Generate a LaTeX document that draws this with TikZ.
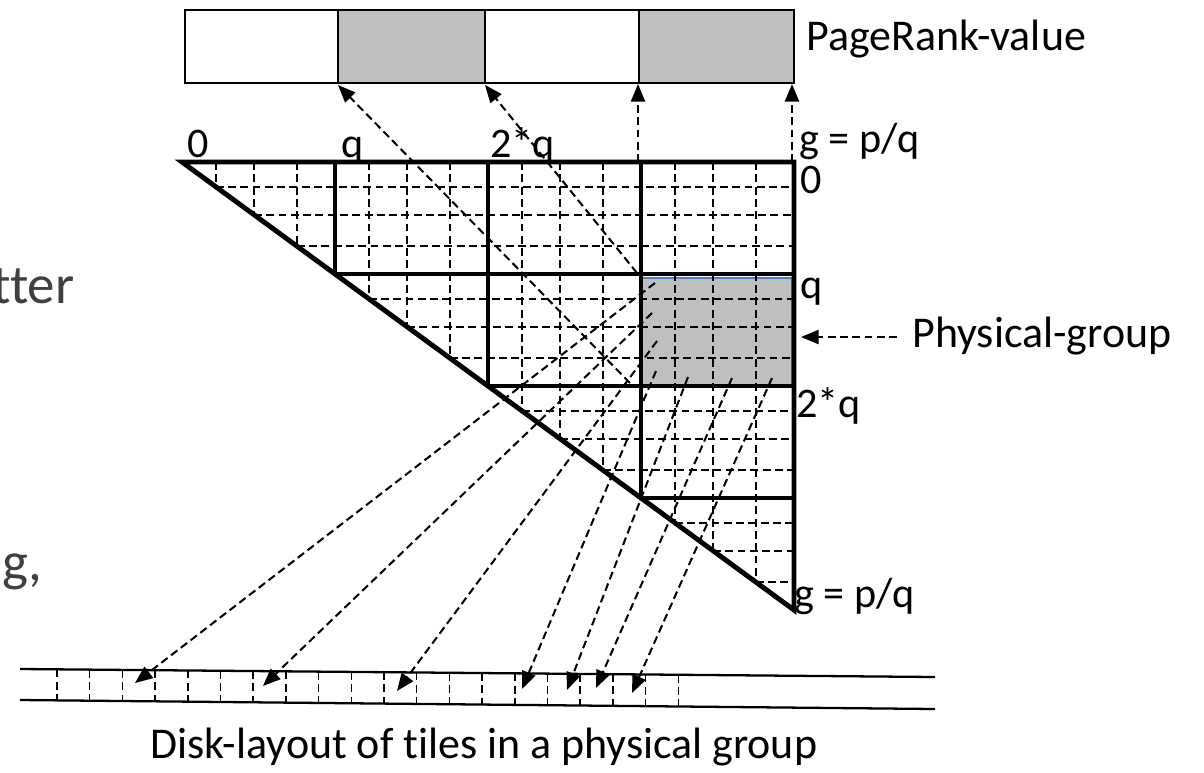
\documentclass[tikz,border=0pt]{standalone}
\usepackage{fontspec}
\setmainfont{Carlito}[Ligatures={NoCommon}]
\usetikzlibrary{arrows.meta}
\definecolor{cellgray}{HTML}{BFBFBF}
\definecolor{groupedge}{HTML}{4F81BD}
\definecolor{slidetext}{HTML}{404040}
\begin{document}
\begin{tikzpicture}[x=0.02cm,y=-0.02cm,
  heavy/.style={line width=2.8pt,line join=miter},
  fine/.style={line width=1.15pt,dash pattern=on 4.5pt off 2.5pt},
  link/.style={line width=1.15pt,dash pattern=on 4.5pt off 2.5pt,
    -{Triangle[length=10pt,width=8pt]}},
  cell/.style={draw=black,line width=1.1pt},
  lbl/.style={inner sep=0pt,anchor=base west,font=\fontsize{24}{28}\selectfont},
  big/.style={inner sep=0pt,anchor=base west,font=\fontsize{25}{30}\selectfont},
  slide/.style={inner sep=0pt,anchor=base west,text=slidetext,
    font=\fontsize{31.3}{38}\selectfont}]
\useasboundingbox (0,0) rectangle (1204,772);

% text of the slide behind the figure
\node[slide] (frag1) at (-8,303) {tter};
\node[slide] (frag2) at (2,580) {g,};

% PageRank vector
\draw[cell] (185,10) rectangle (338,83);
\draw[cell,fill=cellgray] (338,10) rectangle (485,83);
\draw[cell] (485,10) rectangle (639,83);
\draw[cell,fill=cellgray] (639,10) rectangle (794,83);
\node[big] (prv) at (806,50) {PageRank-value};

% highlighted physical group
\draw[fill=cellgray,draw=groupedge,line width=0.6pt] (641,278) rectangle (792,385);

% fine tile grid inside the triangle (x = 182+153u, y = 162+112v, diagonal u = v)
\foreach \i in {0,...,3}{
  \foreach \f in {0.22,0.47,0.75}{
    \pgfmathsetmacro\u{\i+\f}
    \draw[fine] ({182+153*\u},162) -- ({182+153*\u},{162+112*\u});
    \draw[fine] ({182+153*\u},{162+112*\u}) -- (794,{162+112*\u});
  }
}

% block boundaries
\foreach \k in {1,2,3}{
  \draw[heavy] ({182+153*\k},162) -- ({182+153*\k},{162+112*\k}) -- (794,{162+112*\k});
}
\draw[heavy] (182,162) -- (794,162) -- (794,610) -- cycle;

% axis labels
\node[lbl] (c0) at (187,157) {0};
\node[lbl] (c1) at (341,157) {q};
\node[lbl] (c2) at (490,157) {2*q};
\node[lbl] (cg) at (799,152) {g = p/q};
\node[lbl] (r0) at (800,193) {0};
\node[lbl] (r1) at (800,298) {q};
\node[lbl] (r2) at (796,417) {2*q};
\node[lbl] (rg) at (794,607) {g = p/q};

% links to the PageRank vector
\coordinate (s1) at (630,383);
\coordinate (s2) at (637,273);
\coordinate (s3) at (638,162);
\coordinate (s4) at (792,162);
\coordinate (e1) at (338,85);
\coordinate (e2) at (485,85);
\coordinate (e3) at (638,84);
\coordinate (e4) at (792,84);
\draw[link] (s1) -- (e1);
\draw[link] (s2) -- (e2);
\draw[link] (s3) -- (e3);
\draw[link] (s4) -- (e4);

% physical group label
\node[big] (pg) at (912,347) {Physical-group};
\coordinate (pgtail) at (897,337);
\coordinate (pgtip) at (801,337);
\draw[link] (pgtail) -- (pgtip);

% disk layout strip
\draw[line width=1.3pt] (20,669) -- (935,677);
\draw[line width=1.3pt] (20,700) -- (935,709);
\foreach \k in {0,...,19}{
  \pgfmathsetmacro\xx{57+32.7*\k}
  \draw[fine,line width=0.9pt] (\xx,{669+(\xx-20)*8/915}) -- (\xx,{700+(\xx-20)*9/915});
}
\node[big] (disk) at (150,758) {Disk-layout of tiles in a physical group};

% tiles of the physical group mapped onto the disk
\foreach \n/\ax/\ay/\bx/\by in {1/655/283/135/683, 2/652/313/263/686, 3/657/341/397/691,
  4/656/371/522/689, 5/688/377/567/690, 6/732/378/596/688, 7/772/378/632/693}{
  \coordinate (t\n) at (\ax,\ay);
  \coordinate (d\n) at (\bx,\by);
  \draw[link] (t\n) -- (d\n);
}
\end{tikzpicture}
\end{document}
